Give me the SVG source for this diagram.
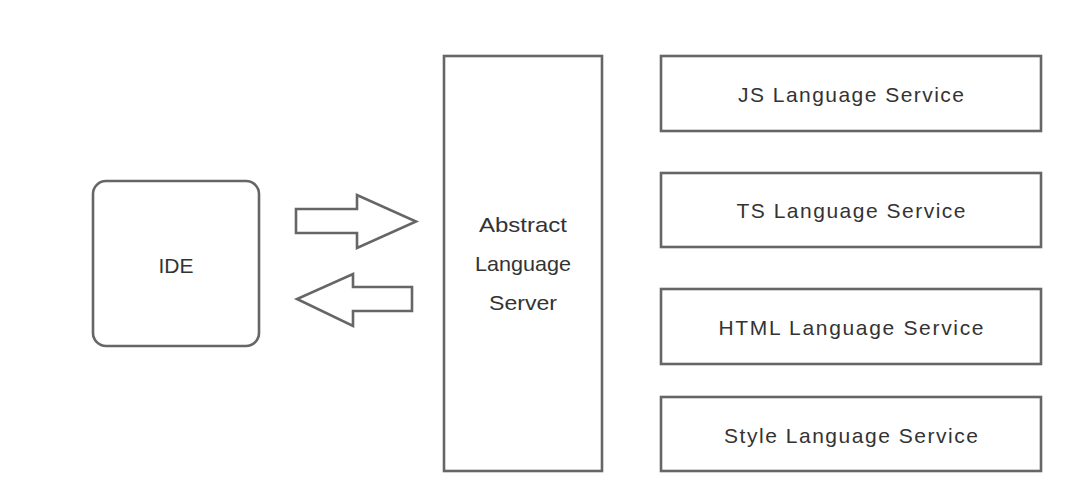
<svg xmlns="http://www.w3.org/2000/svg" width="1080" height="503" viewBox="0 0 1080 503">
<style>
.box{fill:#fff;stroke:#666;stroke-width:2.6}
.arrow{fill:#fff;stroke:#666;stroke-width:2.6;stroke-linejoin:miter}
.t{font-family:"Liberation Sans",Arial,sans-serif;font-size:21px;fill:#333;text-anchor:middle}
</style>
<rect width="1080" height="503" fill="#fff"/>
<g id="ide">
<rect class="box" x="93" y="181" width="166" height="165" rx="13"/>
<text class="t" x="176" y="273" textLength="35" lengthAdjust="spacingAndGlyphs">IDE</text>
</g>
<g id="connectors">
<polygon class="arrow" points="296,209 357,209 357,195 416,221.5 357,248 357,233 296,233"/>
<polygon class="arrow" points="412,287 353,287 353,274 297,299 353,326 353,311 412,311"/>
</g>
<g id="server">
<rect class="box" x="444" y="56" width="158" height="415"/>
<text class="t" x="523" y="232" textLength="88" lengthAdjust="spacingAndGlyphs">Abstract</text>
<text class="t" x="523" y="271" textLength="96" lengthAdjust="spacingAndGlyphs">Language</text>
<text class="t" x="523" y="310" textLength="68" lengthAdjust="spacingAndGlyphs">Server</text>
</g>
<g id="js">
<rect class="box" x="661" y="56" width="380" height="75"/>
<text class="t" x="851" y="102" textLength="226" lengthAdjust="spacing">JS Language Service</text>
</g>
<g id="ts">
<rect class="box" x="661" y="173" width="380" height="74"/>
<text class="t" x="851" y="218" textLength="229" lengthAdjust="spacing">TS Language Service</text>
</g>
<g id="html">
<rect class="box" x="661" y="289" width="380" height="75"/>
<text class="t" x="851" y="335" textLength="265" lengthAdjust="spacing">HTML Language Service</text>
</g>
<g id="style">
<rect class="box" x="661" y="397" width="380" height="74"/>
<text class="t" x="851" y="443" textLength="254" lengthAdjust="spacing">Style Language Service</text>
</g>
</svg>
